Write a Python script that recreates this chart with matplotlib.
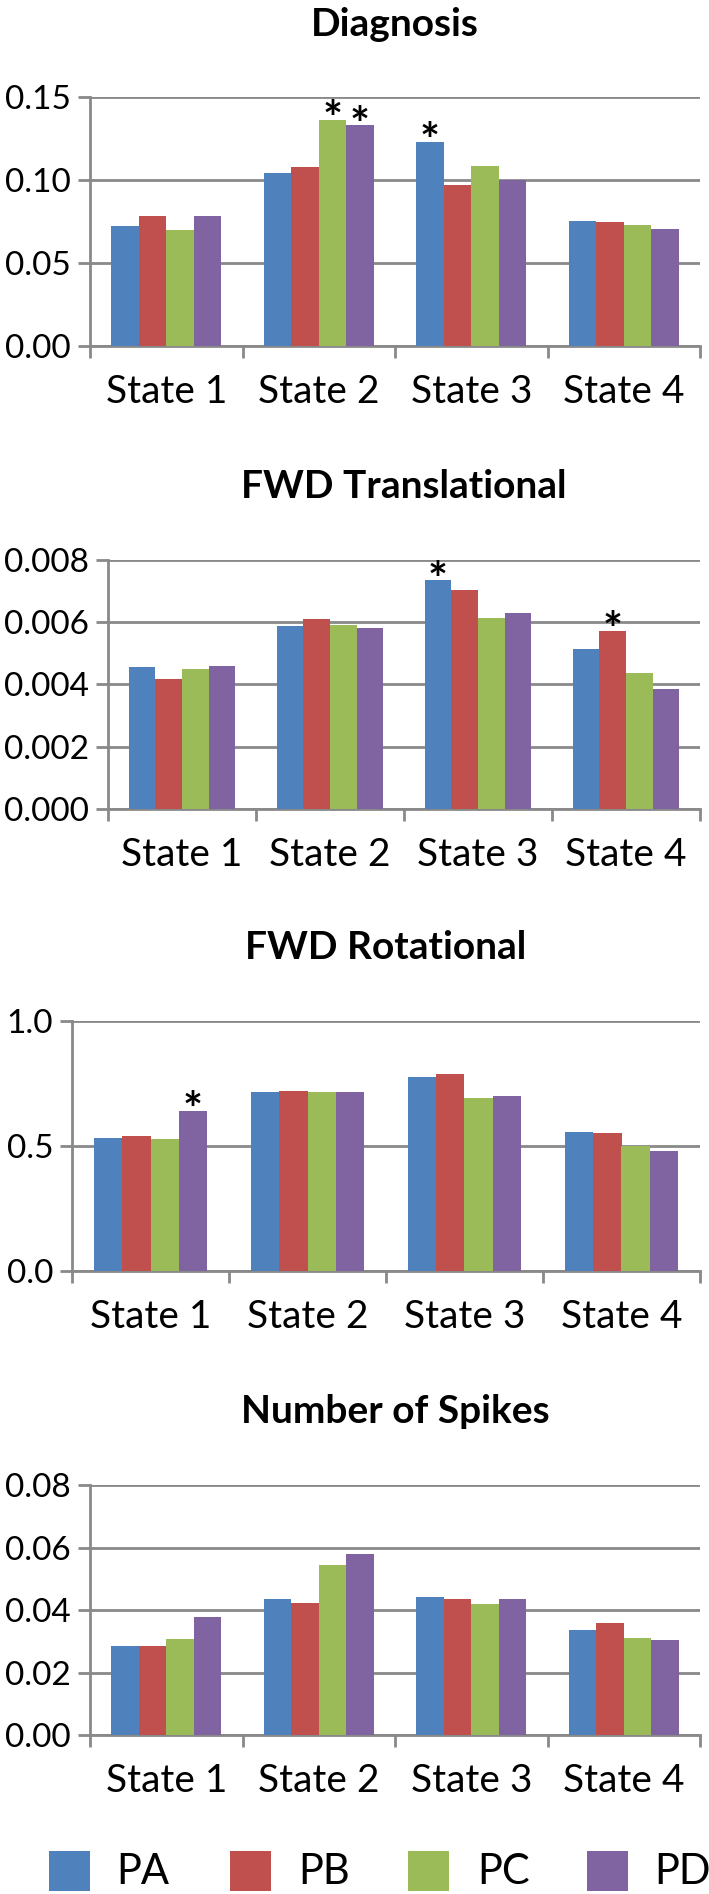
import matplotlib
matplotlib.use("Agg")
import matplotlib.pyplot as plt
import numpy as np
from matplotlib.ticker import FixedLocator, FormatStrFormatter
from matplotlib.patches import Rectangle

plt.rcParams['font.family'] = ['Lato', 'DejaVu Sans']

states = ["State 1", "State 2", "State 3", "State 4"]
series_names = ["PA", "PB", "PC", "PD"]
colors = ["#4F81BD", "#C0504D", "#9BBB59", "#8064A2"]

diag_PA = [0.0725, 0.104, 0.123, 0.0754]
diag_PB = [0.0782, 0.1076, 0.0968, 0.0745]
diag_PC = [0.0697, 0.1363, 0.1082, 0.0727]
diag_PD = [0.0782, 0.1329, 0.1002, 0.0707]
diag_stars = [(1, 2), (1, 3), (2, 0)]  # (state index, series index)

trans_PA = [0.00455, 0.00588, 0.00735, 0.00514]
trans_PB = [0.00418, 0.00610, 0.00703, 0.00572]
trans_PC = [0.00449, 0.00591, 0.00615, 0.00436]
trans_PD = [0.00458, 0.00583, 0.00631, 0.00384]
trans_stars = [(2, 0), (3, 1)]

rot_PA = [0.531, 0.715, 0.777, 0.555]
rot_PB = [0.539, 0.719, 0.788, 0.552]
rot_PC = [0.528, 0.716, 0.693, 0.501]
rot_PD = [0.640, 0.716, 0.700, 0.481]
rot_stars = [(0, 3)]

spk_PA = [0.0285, 0.0436, 0.0442, 0.0336]
spk_PB = [0.0286, 0.0424, 0.0435, 0.0360]
spk_PC = [0.0307, 0.0545, 0.0420, 0.0311]
spk_PD = [0.0379, 0.0579, 0.0434, 0.0304]
spk_stars = []

panels = [
    ("Diagnosis", [diag_PA, diag_PB, diag_PC, diag_PD], diag_stars, [0, 0.05, 0.10, 0.15], "%.2f"),
    ("FWD Translational", [trans_PA, trans_PB, trans_PC, trans_PD], trans_stars, [0, 0.002, 0.004, 0.006, 0.008], "%.3f"),
    ("FWD Rotational", [rot_PA, rot_PB, rot_PC, rot_PD], rot_stars, [0, 0.5, 1.0], "%.1f"),
    ("Number of Spikes", [spk_PA, spk_PB, spk_PC, spk_PD], spk_stars, [0, 0.02, 0.04, 0.06, 0.08], "%.2f"),
]

W, H = 709, 1894
fig = plt.figure(figsize=(W / 100, H / 100), dpi=100)

# (left, top, right, bottom) in pixels
boxes = [(90, 97, 700, 346), (108, 560, 700, 809), (72, 1021, 700, 1271), (90, 1485, 700, 1735)]
title_y = [25, 486, 947, 1411]

grid_c = "#898989"
PX = 72 / 100  # points per pixel

def rect(l, t, r, b):
    return [l / W, 1 - b / H, (r - l) / W, (b - t) / H]

bw = 0.18
x = np.arange(len(states))
for (title, data, stars, yt, fmt), box, ty in zip(panels, boxes, title_y):
    ax = fig.add_axes(rect(*box))
    for i, vals in enumerate(data):
        ax.bar(x + (i - 1.5) * bw, vals, width=bw, color=colors[i], zorder=3, linewidth=0)
    for (si, ki) in stars:
        ax.annotate("*", (x[si] + (ki - 1.5) * bw, data[ki][si]), xytext=(0, -11),
                    textcoords="offset points", ha="center", va="baseline",
                    fontsize=34, fontweight="bold", color="black", zorder=4)
    ax.set_xlim(-0.5, 3.5)
    ax.set_ylim(yt[0], yt[-1])
    ax.yaxis.set_major_locator(FixedLocator(yt))
    ax.yaxis.set_major_formatter(FormatStrFormatter(fmt))
    ax.grid(axis="y", color=grid_c, linewidth=2.0, zorder=0)
    ax.set_axisbelow(True)
    for s in ["top", "right"]:
        ax.spines[s].set_visible(False)
    for s in ["left", "bottom"]:
        ax.spines[s].set_color(grid_c)
        ax.spines[s].set_linewidth(2.0)
    ax.tick_params(axis="y", length=12 * PX, width=2.0, color=grid_c, pad=5, labelsize=24)
    ax.set_xticks(np.arange(-0.5, 4.0, 1.0))
    ax.set_xticklabels([])
    ax.set_xticks(x, minor=True)
    ax.set_xticklabels(states, minor=True)
    ax.tick_params(axis="x", which="major", length=12 * PX, width=2.0, color=grid_c)
    ax.tick_params(axis="x", which="minor", length=0, pad=20, labelsize=28)
    cx = (box[0] + box[2]) / 2 / W
    fig.text(cx, 1 - ty / H, title, ha="center", va="center", fontsize=28, fontweight="bold")

# legend drawn in pixel coordinates
lax = fig.add_axes([0, 0, 1, 1], zorder=-1)
lax.set_xlim(0, W)
lax.set_ylim(H, 0)
lax.axis("off")
sq_x = [49, 230, 408, 587]
txt_x = [116, 298, 477, 654]
for name, c, sx, tx in zip(series_names, colors, sq_x, txt_x):
    lax.add_patch(Rectangle((sx, 1851), 41, 40, facecolor=c, edgecolor="none"))
    lax.text(tx, 1872, name, ha="left", va="center", fontsize=30)

fig.savefig("out.png", dpi=100)
